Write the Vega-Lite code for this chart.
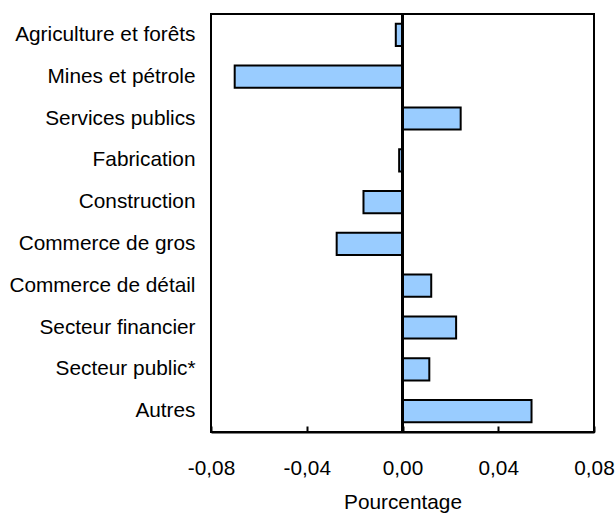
{
  "$schema": "https://vega.github.io/schema/vega-lite/v6.json",
  "autosize": {"type": "none"},
  "padding": {"left": 211, "top": 14, "right": 21, "bottom": 83},
  "width": 383,
  "height": 418,
  "background": "white",
  "config": {
    "font": "Liberation Sans",
    "view": {"stroke": "black", "strokeWidth": 2},
    "axis": {"grid": false, "labelColor": "black", "titleColor": "black", "domainColor": "black", "tickColor": "black"}
  },
  "data": {
    "values": [
      {"secteur": "Agriculture et forêts", "valeur": -0.0028},
      {"secteur": "Mines et pétrole", "valeur": -0.0701},
      {"secteur": "Services publics\u00a0", "valeur": 0.0243},
      {"secteur": "Fabrication", "valeur": -0.0014},
      {"secteur": "Construction", "valeur": -0.0163},
      {"secteur": "Commerce de gros", "valeur": -0.0275},
      {"secteur": "Commerce de détail", "valeur": 0.0120},
      {"secteur": "Secteur financier\u00a0", "valeur": 0.0224},
      {"secteur": "Secteur public*", "valeur": 0.0112},
      {"secteur": "Autres", "valeur": 0.0539}
    ]
  },
  "layer": [
    {
      "mark": {"type": "bar", "fill": "#99CCFF", "stroke": "black", "strokeWidth": 2},
      "encoding": {
        "y": {
          "field": "secteur",
          "type": "nominal",
          "sort": null,
          "scale": {"paddingInner": 0.47, "paddingOuter": 0.235},
          "axis": {"title": null, "ticks": false, "domain": false, "labelPadding": 16, "labelFontSize": 20.8, "labelLimit": 300}
        },
        "x": {
          "field": "valeur",
          "type": "quantitative",
          "scale": {"domain": [-0.08, 0.08], "nice": false, "zero": false},
          "axis": {
            "title": "Pourcentage",
            "titleFontSize": 20.8,
            "titleFontWeight": "normal",
            "titlePadding": 15,
            "values": [-0.08, -0.04, 0, 0.04, 0.08],
            "labelExpr": "replace(replace(format(datum.value, '.2f'), '.', ','), '−', '-')",
            "labelFontSize": 20.8,
            "labelPadding": 32,
            "tickSize": -6,
            "tickWidth": 2,
            "domainWidth": 2,
            "labelFlush": false
          }
        }
      }
    },
    {
      "mark": {"type": "rule", "color": "black", "strokeWidth": 2},
      "encoding": {"x": {"datum": 0}}
    }
  ]
}
